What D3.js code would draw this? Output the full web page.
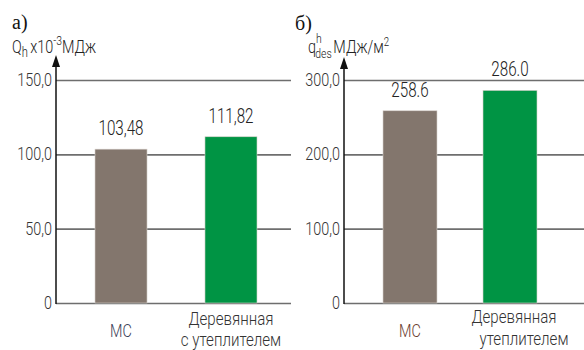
<!DOCTYPE html>
<html>
<head>
<meta charset="utf-8">
<script src="https://cdn.jsdelivr.net/npm/d3@7/dist/d3.min.js"></script>
<style>
  html, body { margin: 0; padding: 0; background: #fff; }
  svg { display: block; }
</style>
</head>
<body>
<svg id="chart" width="584" height="350"></svg>
<script>
// Categories and values for the two panels
const categories = ["МС", "Деревянная с утеплителем"];
const heatValues = [103.48, 111.82];          // panel а), Q_h ×10^-3 МДж
const specificValues = [258.6, 286.0];        // panel б), q_des^h МДж/м²
const heatTicks = [0, 50, 100, 150];
const specificTicks = [0, 100, 200, 300];
const barColors = ["#83766d", "#009444"];

const svg = d3.select("#chart");
const FONT = "Roboto, 'DejaVu Sans', sans-serif";
const SX = 0.8; // horizontal squeeze for a narrow drafting look

// text helper: narrow text placed at (x, y)
function ntext(g, x, y, str, opts = {}) {
  return g.append("text")
    .attr("transform", `translate(${x},${y}) scale(${opts.sx || SX},1)`)
    .attr("font-family", FONT)
    .attr("font-weight", opts.weight || 300)
    .attr("font-size", opts.size || 18)
    .attr("fill", opts.fill || "#222")
    .attr("text-anchor", opts.anchor || "start")
    .text(str);
}

const commaFmt = v => v === 0 ? "0" : d3.format(".1f")(v).replace(".", ",");

function panel(cfg) {
  const g = svg.append("g");
  const y = d3.scaleLinear().domain(cfg.domain).range([303, 80]);
  const x = d3.scaleBand().domain(categories).range(cfg.barRange)
    .paddingInner(cfg.padIn).paddingOuter(0);

  // gridlines and tick labels
  const axis = d3.axisLeft(y).tickValues(cfg.ticks)
    .tickSize(-(cfg.gridRight - cfg.axisX)).tickFormat(commaFmt);
  const ax = g.append("g").attr("transform", `translate(${cfg.axisX},0)`).call(axis);
  ax.select(".domain").remove();
  ax.selectAll(".tick line").attr("stroke", "#6e6e6e").attr("stroke-width", 1.6);
  ax.selectAll(".tick text").remove();
  cfg.ticks.forEach(d => {
    ntext(g, cfg.axisX - 4, y(d) + 6, commaFmt(d), { anchor: "end", size: 18, fill: "#333" });
  });

  // bars
  g.selectAll("rect.bar").data(cfg.values).join("rect")
    .attr("class", "bar")
    .attr("x", (d, i) => x(categories[i]))
    .attr("width", x.bandwidth())
    .attr("y", d => y(d))
    .attr("height", d => y(0) - y(d))
    .attr("fill", (d, i) => barColors[i])
    .attr("stroke", "#d8d2cc").attr("stroke-width", 0.6);

  // value labels
  cfg.values.forEach((d, i) => {
    ntext(g, x(categories[i]) + x.bandwidth() / 2, y(d) - 14, cfg.labelFmt(d),
      { anchor: "middle", size: 20, fill: "#222", sx: 0.76 });
  });

  // vertical axis with arrow
  g.append("line").attr("x1", cfg.axisX).attr("x2", cfg.axisX)
    .attr("y1", 304).attr("y2", 62).attr("stroke", "#111").attr("stroke-width", 1.5);
  g.append("path")
    .attr("d", `M${cfg.axisX},${cfg.arrowTip} L${cfg.axisX - 4},${cfg.arrowTip + 12} L${cfg.axisX + 4},${cfg.arrowTip + 12} Z`)
    .attr("fill", "#111");

  // category labels
  const c0 = x(categories[0]) + x.bandwidth() / 2;
  const c1 = x(categories[1]) + x.bandwidth() / 2;
  ntext(g, c0, 337, "МС", { anchor: "middle", size: 18, fill: cfg.mcColor });
  const parts = categories[1].split(" ");
  ntext(g, c1 + cfg.catDx[0], cfg.catY[0], parts[0], { anchor: "middle", size: 18, fill: "#333", sx: 0.84 });
  ntext(g, c1 + cfg.catDx[1], cfg.catY[1], cfg.secondLine, { anchor: "middle", size: 18, fill: "#333", sx: 0.84 });
  return g;
}

panel({
  domain: [0, 150], ticks: heatTicks, values: heatValues,
  axisX: 56, barRange: [95, 257], gridRight: 291, padIn: 0.527,
  arrowTip: 55, labelFmt: v => d3.format(".2f")(v).replace(".", ","),
  mcColor: "#3b4258", catDx: [0, 0], catY: [325, 346], secondLine: "с утеплителем"
});

panel({
  domain: [0, 300], ticks: specificTicks, values: specificValues,
  axisX: 344, barRange: [383, 537], gridRight: 584, padIn: 0.46,
  arrowTip: 57, labelFmt: v => d3.format(".1f")(v),
  mcColor: "#6a3b2e", catDx: [4, 14], catY: [323, 345], secondLine: "утеплителем"
});

// panel letters
svg.append("text").attr("x", 12).attr("y", 29).attr("font-family", "'Liberation Serif', serif")
  .attr("font-size", 20).attr("fill", "#111").text("а)");
svg.append("text").attr("x", 295).attr("y", 30).attr("font-family", "'Liberation Serif', serif")
  .attr("font-size", 20).attr("fill", "#111").text("б)");

// axis titles
const t1 = svg.append("text").attr("transform", "translate(12,53) scale(0.8,1)")
  .attr("font-family", FONT).attr("font-weight", 300).attr("font-size", 18).attr("fill", "#222");
t1.append("tspan").text("Q");
t1.append("tspan").attr("font-size", 14).attr("dy", 4).text("h");
t1.append("tspan").attr("dy", -4).attr("dx", 3).text("x10");
t1.append("tspan").attr("font-size", 13).attr("dy", -8).text("-3");
t1.append("tspan").attr("dy", 8).text("МДж");

const t2 = svg.append("text").attr("transform", "translate(308,53) scale(0.8,1)")
  .attr("font-family", FONT).attr("font-weight", 300).attr("font-size", 18).attr("fill", "#222");
t2.append("tspan").text("q");
t2.append("tspan").attr("font-size", 13).attr("dy", -10).text("h");
t2.append("tspan").attr("font-size", 13).attr("dx", -8).attr("dy", 15).text("des");
t2.append("tspan").attr("dy", -5).attr("dx", 2).text("МДж/м");
t2.append("tspan").attr("font-size", 12).attr("dy", -7).text("2");
</script>
</body>
</html>
